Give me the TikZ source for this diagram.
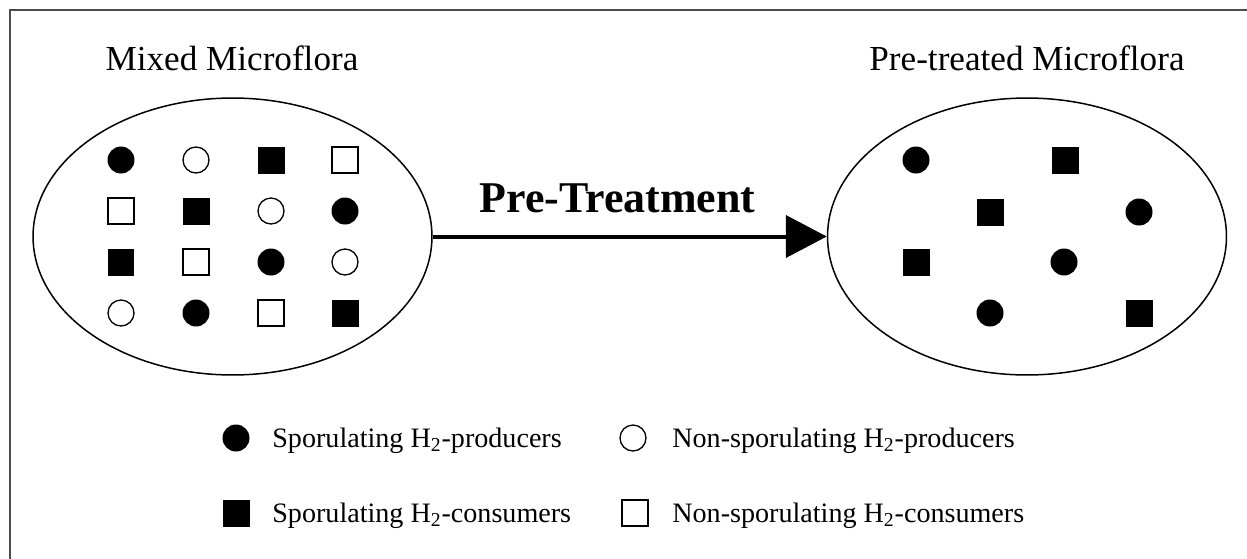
\documentclass[tikz,border=0pt]{standalone}
\usepackage{fontspec}
\setmainfont{Liberation Serif}
\usetikzlibrary{shapes.geometric,arrows.meta}
\begin{document}
\begin{tikzpicture}[x=0.02cm,y=-0.02cm,
  fc/.style={circle,fill=black,minimum size=0.54cm,inner sep=0pt},
  oc/.style={circle,draw=black,line width=0.026cm,minimum size=0.52cm,inner sep=0pt},
  fs/.style={rectangle,fill=black,minimum size=0.54cm,inner sep=0pt},
  os/.style={rectangle,draw=black,line width=0.026cm,minimum size=0.52cm,inner sep=0pt},
  pool/.style={ellipse,draw=black,line width=0.03cm,minimum width=7.98cm,minimum height=5.54cm,inner sep=0pt},
  title/.style={anchor=base,font=\fontsize{20}{24}\selectfont,inner sep=0pt},
  legtext/.style={anchor=base west,font=\fontsize{16}{19}\selectfont,inner sep=0pt}]
\useasboundingbox (0,0) rectangle (1247,558);
\draw[line width=0.05cm,draw=black!70] (10,562) -- (10,10) -- (1250,10);

% titles
\node[title] (tL) at (232,70) {Mixed Microflora};
\node[title] (tR) at (1027,70) {Pre-treated Microflora};

% pools
\node[pool] (L) at (232.5,236.5) {};
\node[pool] (R) at (1027,236.5) {};

% left grid
\node[fc] (a11) at (121,160) {};
\node[oc] (a12) at (196,160) {};
\node[fs] (a13) at (271,160) {};
\node[os] (a14) at (345,160) {};
\node[os] (a21) at (121,211) {};
\node[fs] (a22) at (196,211) {};
\node[oc] (a23) at (271,211) {};
\node[fc] (a24) at (345,211) {};
\node[fs] (a31) at (121,262) {};
\node[os] (a32) at (196,262) {};
\node[fc] (a33) at (271,262) {};
\node[oc] (a34) at (345,262) {};
\node[oc] (a41) at (121,313) {};
\node[fc] (a42) at (196,313) {};
\node[os] (a43) at (271,313) {};
\node[fs] (a44) at (345,313) {};

% right pool
\node[fc] (b1) at (916,160) {};
\node[fs] (b2) at (1065,160) {};
\node[fs] (b3) at (990,212) {};
\node[fc] (b4) at (1139,212) {};
\node[fs] (b5) at (916,262) {};
\node[fc] (b6) at (1064,262) {};
\node[fc] (b7) at (990,313) {};
\node[fs] (b8) at (1139,313) {};

% arrow
\draw[line width=0.08cm,-{Triangle[length=0.82cm,width=0.84cm]}] (L.east) -- (R.west);
\node[anchor=base,inner sep=0pt,font=\bfseries\fontsize{25}{30}\selectfont] (pt) at (617.5,212) {Pre-Treatment};

% legend
\node[fc] (k1) at (236,438) {};
\node[legtext] (k1t) at (272,447) {Sporulating H\textsubscript{2}-producers};
\node[oc] (k2) at (633,438) {};
\node[legtext] (k2t) at (672,447) {Non-sporulating H\textsubscript{2}-producers};
\node[fs] (k3) at (236,513) {};
\node[legtext] (k3t) at (272,522) {Sporulating H\textsubscript{2}-consumers};
\node[os] (k4) at (635,513) {};
\node[legtext] (k4t) at (672,522) {Non-sporulating H\textsubscript{2}-consumers};
\end{tikzpicture}
\end{document}
